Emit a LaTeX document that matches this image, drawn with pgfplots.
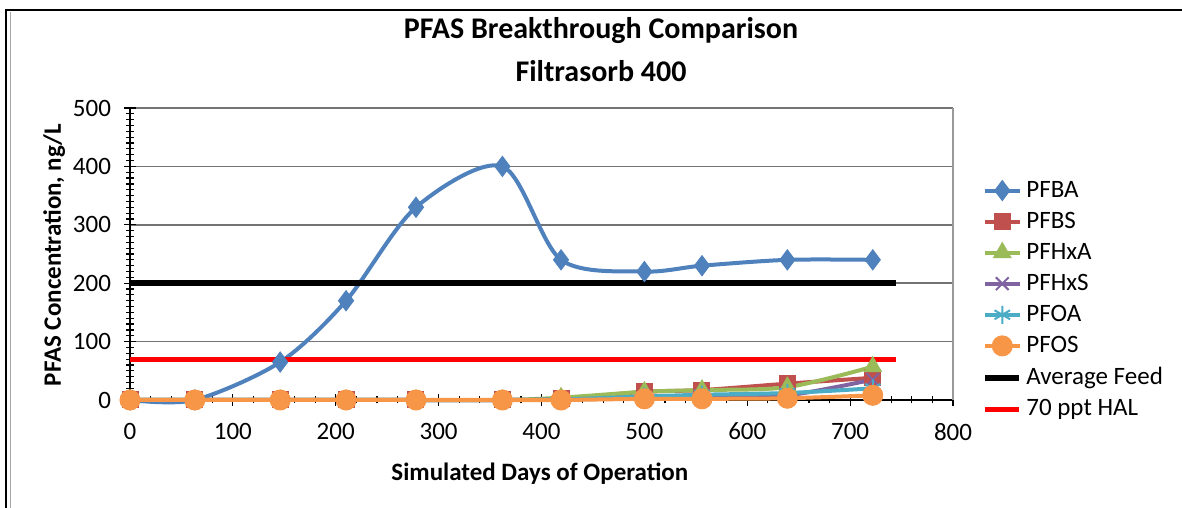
\documentclass[border=0pt]{standalone}
\usepackage{fontspec}
\setmainfont{Carlito}
\usepackage{pgfplots}
\pgfplotsset{compat=1.18}
\definecolor{cPFBA}{HTML}{4F81BD}
\definecolor{cPFBS}{HTML}{C0504D}
\definecolor{cPFHxA}{HTML}{9BBB59}
\definecolor{cPFHxS}{HTML}{8064A2}
\definecolor{cPFOA}{HTML}{4BACC6}
\definecolor{cPFOS}{HTML}{F79646}
\begin{document}
\begin{tikzpicture}
\useasboundingbox (0,0) rectangle (591pt,254pt);
\fill[white] (0,0) rectangle (591pt,254pt);
\draw[black,line width=1pt] (3pt,0) -- (3pt,248.75pt) -- (591pt,248.75pt);
\draw[black!35,line width=0.8pt] (5.3pt,0) -- (5.3pt,248pt);
\node[font=\fontsize{15}{17}\selectfont\bfseries] at (300.5pt,238.5pt) {PFAS Breakthrough Comparison};
\node[font=\fontsize{15}{17}\selectfont\bfseries] at (300.5pt,218.5pt) {Filtrasorb 400};
\begin{axis}[
  at={(65pt,54pt)}, anchor=south west,
  scale only axis, width=411.5pt, height=146pt,
  xmin=0, xmax=800, ymin=0, ymax=500,
  xtick={0,100,...,800}, ytick={0,100,...,500},
  minor x tick num=4, minor y tick num=9,
  axis lines=left, x axis line style={-}, y axis line style={-},
  axis line style={black, line width=0.7pt},
  tick align=center, major tick length=6pt, minor tick length=3.5pt,
  every tick/.style={black, line width=0.6pt},
  ymajorgrids=true,
  major grid style={draw=black!55, line width=0.75pt},
  /pgf/number format/assume math mode=true,
  ticklabel style={font=\fontsize{12.5}{15}\selectfont},
  xticklabel style={yshift=-5pt},
  yticklabel style={xshift=-3pt},
  xlabel={\bfseries Simulated Days of Operation},
  ylabel={\bfseries PFAS Concentration, ng/L},
  label style={font=\fontsize{12.5}{15}\selectfont},
  xlabel style={at={(axis description cs:0.498,-0.252)}, anchor=center},
  ylabel style={at={(axis description cs:-0.092,0.497)}, anchor=center, rotate=0},
  legend style={at={(axis description cs:1.035,0.765)}, anchor=north west, draw=none, fill=none,
    font=\fontsize{12.5}{15}\selectfont, row sep=1.95pt, inner sep=0pt},
  legend cell align=left,
  clip=false,
]
\draw[black!40, line width=0.6pt] (rel axis cs:1,0) -- (rel axis cs:1,1);
\addplot[smooth, color=cPFBA, line width=2pt, mark=diamond*, mark size=5pt, mark options={solid, fill=cPFBA, line width=0.5pt}]
 coordinates {(0,0) (63,0) (146,65) (210,170) (278,330) (362,400) (419,240) (500,220) (556,230) (639,240) (722,240)};
\addlegendentry{PFBA}
\addplot[smooth, color=cPFBS, line width=2pt, mark=square*, mark size=4pt, mark options={solid, fill=cPFBS, line width=0.5pt}]
 coordinates {(0,0) (63,0) (146,0) (210,0) (278,0) (362,0) (419,2) (500,14) (556,17) (639,28) (722,38)};
\addlegendentry{PFBS}
\addplot[smooth, color=cPFHxA, line width=2pt, mark=triangle*, mark size=5pt, mark options={solid, fill=cPFHxA, line width=0.5pt}]
 coordinates {(0,0) (63,0) (146,0) (210,0) (278,0) (362,0) (419,4) (500,14) (556,17) (639,22) (722,57)};
\addlegendentry{PFHxA}
\addplot[smooth, color=cPFHxS, line width=2pt, mark=x, mark size=4.5pt, mark options={solid, line width=1pt}]
 coordinates {(0,0) (63,0) (146,0) (210,0) (278,0) (362,0) (419,1) (500,3) (556,4) (639,8) (722,35)};
\addlegendentry{PFHxS}
\addplot[smooth, color=cPFOA, line width=2pt, mark=asterisk, mark size=4.5pt, mark options={solid, line width=1pt}]
 coordinates {(0,0) (63,0) (146,0) (210,0) (278,0) (362,0) (419,1) (500,6) (556,9) (639,12) (722,20)};
\addlegendentry{PFOA}
\addplot[smooth, color=cPFOS, line width=2pt, mark=*, mark size=5pt, mark options={solid, fill=cPFOS, line width=0.5pt}]
 coordinates {(0,0) (63,0) (146,0) (210,0) (278,0) (362,0) (419,0) (500,2) (556,2) (639,3) (722,8)};
\addlegendentry{PFOS}
\addplot[black, line width=3pt] coordinates {(0,200) (745,200)};
\addlegendentry{Average Feed}
\addplot[red, line width=2.5pt] coordinates {(0,70) (745,70)};
\addlegendentry{70 ppt HAL}
\end{axis}
\end{tikzpicture}
\end{document}
